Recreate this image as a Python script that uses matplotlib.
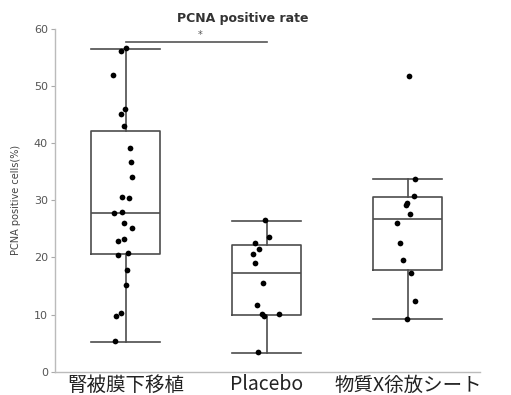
import matplotlib
matplotlib.use("Agg")
import matplotlib.pyplot as plt
import numpy as np

plt.rcParams['font.family'] = ['DejaVu Sans', 'Noto Sans CJK JP']

categories = ['腎被膜下移植', 'Placebo', '物質X徐放シート']

# individual data points (%)
g1_values = [56.6, 56.2, 52.0, 46.0, 45.2, 43.1, 39.2, 36.8, 34.0, 30.6, 30.4, 27.7,
             28.0, 26.1, 25.2, 22.9, 23.2, 20.5, 20.7, 17.8, 15.1, 9.8, 10.3, 5.3]
g1_jitter = [0.0, -4.7, -13, -0.3, -4.3, -2, 4, 5.7, 6.7, -3.3, 3.3, -11.7,
             -3.3, -1.3, 6, -7.7, -1.7, -8, 2.7, 1, 0, -9.3, -5, -10.7]
g2_values = [26.5, 23.5, 22.5, 21.4, 20.6, 19.0, 15.5, 11.6, 10.05, 9.75, 10.05, 3.5]
g2_jitter = [-1.3, 2.7, -12, -7.3, -13.3, -12, -3.3, -9.3, -4.7, -2.7, 12.7, -8.7]
g3_values = [51.7, 33.75, 30.8, 29.6, 29.2, 27.6, 26.1, 22.6, 19.6, 17.3, 12.3, 9.2]
g3_jitter = [0.7, 7.3, 5.7, -0.7, -2.3, 1.7, -10.7, -8.3, -5, 3.3, 6.7, -0.7]

# box statistics
whisker_low = [5.25, 3.3, 9.2]
q1 = [20.6, 9.9, 17.8]
median = [27.7, 17.2, 26.8]
q3 = [42.2, 22.2, 30.5]
whisker_high = [56.5, 26.4, 33.75]

sig_pair = (1, 2)
sig_height = 57.8
sig_label = '*'

fig = plt.figure(figsize=(5.11, 3.95), dpi=100)
ax = fig.add_axes([0.1076, 0.059, 0.8314, 0.8676])

stats = []
for i in range(3):
    stats.append(dict(whislo=whisker_low[i], q1=q1[i], med=median[i],
                      q3=q3[i], whishi=whisker_high[i], fliers=[]))
edge = '#4d4d4d'
ax.bxp(stats, positions=[1, 2, 3], widths=0.49, capwidths=0.49,
       showfliers=False, patch_artist=False,
       boxprops=dict(color=edge, linewidth=1.2),
       whiskerprops=dict(color=edge, linewidth=1.2),
       capprops=dict(color=edge, linewidth=1.2),
       medianprops=dict(color=edge, linewidth=1.2))

for pos, vals, jit in zip([1, 2, 3], [g1_values, g2_values, g3_values],
                          [g1_jitter, g2_jitter, g3_jitter]):
    xs = pos + np.array(jit) / 141.0
    ax.scatter(xs, vals, s=17, color='black', zorder=3, linewidths=0)

# significance bracket
ax.plot([sig_pair[0], sig_pair[1]], [sig_height, sig_height], color='#555555', lw=1.2,
        clip_on=False)
ax.text(sum(sig_pair) / 2 + 0.03, sig_height + 0.3, sig_label, ha='center', va='bottom',
        fontsize=7, color='#555555')

ax.set_xlim(0.5, 3.51)
ax.set_ylim(0, 60)
ax.set_yticks([0, 10, 20, 30, 40, 50, 60])
ax.set_xticks([1, 2, 3])
ax.set_xticklabels(categories, fontsize=14, color='#222222',
                   family=['Noto Sans CJK JP', 'DejaVu Sans'])
ax.tick_params(axis='x', length=0, pad=2)
ax.tick_params(axis='y', length=3, color='#aaaaaa', labelsize=8, labelcolor='#555555', pad=2)

for s in ['top', 'right']:
    ax.spines[s].set_visible(False)
for s in ['left', 'bottom']:
    ax.spines[s].set_color('#bbbbbb')
    ax.spines[s].set_linewidth(1.0)

ax.set_ylabel('PCNA positive cells(%)', fontsize=7, color='#444444', labelpad=9)
fig.text(0.476, 0.952, 'PCNA positive rate', ha='center', va='center',
         fontsize=9, fontweight='bold', color='#333333')

fig.savefig('out.png', dpi=100)
